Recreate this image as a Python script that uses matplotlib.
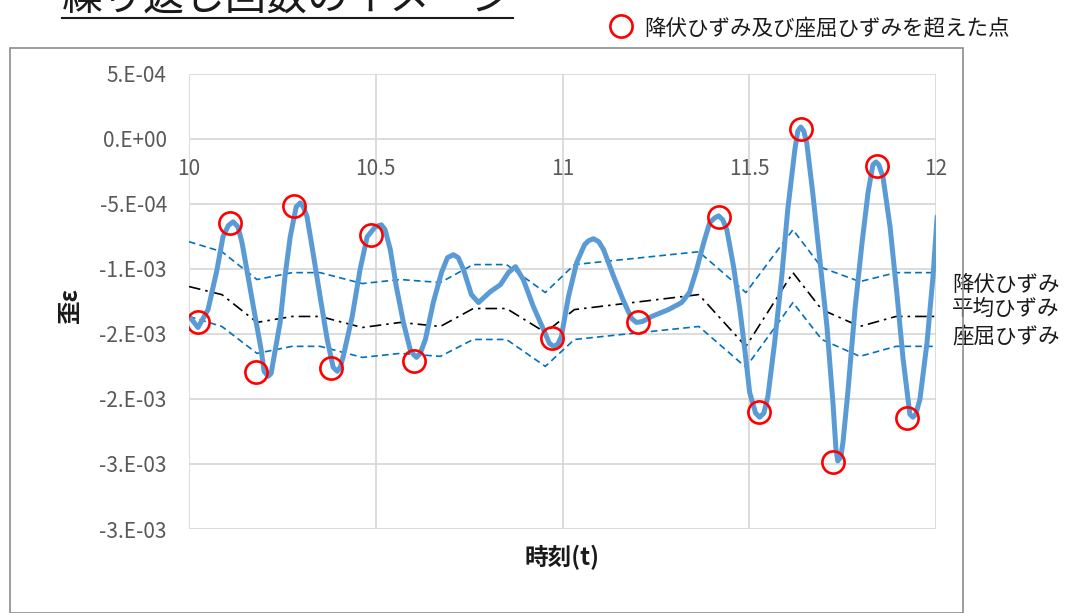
import matplotlib
matplotlib.use('Agg')
import matplotlib.pyplot as plt
from matplotlib.lines import Line2D
from matplotlib.patches import Rectangle

plt.rcParams['font.family'] = ['Noto Sans CJK JP', 'DejaVu Sans']

# 歪みの時刻歴（読み取り値, ×1e-3）
t = [10.003, 10.024, 10.051, 10.075, 10.091, 10.105, 10.118, 10.131, 10.142, 10.158,
     10.177, 10.193, 10.201, 10.212, 10.220, 10.225, 10.244, 10.257, 10.271, 10.287,
     10.298, 10.306, 10.316, 10.332, 10.351, 10.370, 10.386, 10.397, 10.405, 10.413,
     10.437, 10.458, 10.477, 10.499, 10.515, 10.525, 10.539, 10.555, 10.574, 10.592,
     10.601, 10.609, 10.619, 10.633, 10.654, 10.676, 10.692, 10.708, 10.721, 10.735,
     10.756, 10.775, 10.807, 10.834, 10.855, 10.874, 10.895, 10.922, 10.949, 10.965,
     10.976, 10.987, 10.997, 11.016, 11.038, 11.059, 11.070, 11.083, 11.097, 11.110,
     11.137, 11.164, 11.185, 11.198, 11.214, 11.239, 11.284, 11.319, 11.340, 11.359,
     11.378, 11.394, 11.408, 11.418, 11.429, 11.440, 11.458, 11.475, 11.488, 11.501,
     11.517, 11.528, 11.539, 11.550, 11.568, 11.587, 11.603, 11.622, 11.630, 11.638,
     11.646, 11.654, 11.670, 11.689, 11.708, 11.724, 11.732, 11.737, 11.745, 11.751,
     11.764, 11.783, 11.802, 11.818, 11.831, 11.839, 11.847, 11.858, 11.877, 11.895,
     11.912, 11.930, 11.938, 11.946, 11.957, 11.976, 11.992, 12.003]
strain = [-1.373, -1.450, -1.312, -1.005, -0.752, -0.667, -0.637, -0.675, -0.798, -1.058,
          -1.365, -1.618, -1.787, -1.825, -1.802, -1.718, -1.411, -1.058, -0.752, -0.522,
          -0.491, -0.522, -0.598, -0.874, -1.212, -1.542, -1.756, -1.787, -1.756, -1.672,
          -1.365, -1.005, -0.752, -0.675, -0.660, -0.698, -0.851, -1.135, -1.411, -1.618,
          -1.657, -1.680, -1.649, -1.542, -1.258, -1.028, -0.913, -0.890, -0.913, -1.005,
          -1.197, -1.258, -1.174, -1.120, -1.028, -0.982, -1.081, -1.289, -1.465, -1.572,
          -1.595, -1.580, -1.519, -1.212, -0.951, -0.813, -0.782, -0.767, -0.790, -0.851,
          -1.058, -1.250, -1.381, -1.411, -1.404, -1.365, -1.312, -1.258, -1.181, -1.005,
          -0.798, -0.644, -0.606, -0.591, -0.621, -0.698, -0.982, -1.312, -1.618, -1.948,
          -2.109, -2.140, -2.109, -1.979, -1.565, -1.058, -0.545, -0.084, 0.061, 0.092,
          0.061, -0.031, -0.414, -0.928, -1.442, -2.025, -2.380, -2.477, -2.447, -2.332,
          -1.948, -1.312, -0.798, -0.414, -0.199, -0.176, -0.199, -0.291, -0.675, -1.181,
          -1.695, -2.117, -2.140, -2.117, -2.002, -1.565, -1.058, -0.598]
strain = [s * 1e-3 for s in strain]

# 降伏・平均・座屈ひずみ
t_lim = [10.0, 10.088, 10.182, 10.276, 10.351, 10.464, 10.566, 10.673, 10.761, 10.850,
         10.954, 11.032, 11.365, 11.491, 11.617, 11.694, 11.796, 11.893, 12.0]
yield_strain = [-0.790, -0.867, -1.081, -1.028, -1.028, -1.112, -1.081, -1.104, -0.966, -0.966,
                -1.181, -0.966, -0.867, -1.181, -0.698, -0.989, -1.097, -1.028, -1.028]
mean_strain = [-1.135, -1.197, -1.411, -1.365, -1.365, -1.450, -1.411, -1.442, -1.304, -1.304,
               -1.488, -1.312, -1.197, -1.596, -1.028, -1.312, -1.442, -1.365, -1.365]
buckle_strain = [-1.365, -1.442, -1.649, -1.595, -1.595, -1.680, -1.649, -1.672, -1.542, -1.542,
                 -1.749, -1.542, -1.442, -1.756, -1.258, -1.542, -1.672, -1.595, -1.595]
yield_strain = [s * 1e-3 for s in yield_strain]
mean_strain = [s * 1e-3 for s in mean_strain]
buckle_strain = [s * 1e-3 for s in buckle_strain]

# 超過点
t_over = [10.024, 10.110, 10.180, 10.282, 10.381, 10.488, 10.603, 10.973, 11.201, 11.418,
          11.525, 11.638, 11.724, 11.842, 11.922]
strain_over = [-1.411, -0.644, -1.795, -0.514, -1.764, -0.736, -1.710, -1.534, -1.404, -0.598,
               -2.102, 0.077, -2.485, -0.207, -2.148]
strain_over = [s * 1e-3 for s in strain_over]

yticks = [-3.0e-3, -2.5e-3, -2.0e-3, -1.5e-3, -1.0e-3, -5.0e-4, 0.0, 5.0e-4]
ytick_labels = ['-3.E-03', '-3.E-03', '-2.E-03', '-2.E-03', '-1.E-03', '-5.E-04', '0.E+00', '5.E-04']
xticks = [10, 10.5, 11, 11.5, 12]
xtick_labels = ['10', '10.5', '11', '11.5', '12']

W, H = 1079, 613
fig = plt.figure(figsize=(W / 100, H / 100), dpi=100)
ax = fig.add_axes([189 / W, 1 - 529 / H, (936 - 189) / W, (529 - 74) / H])

ax.plot(t_lim, yield_strain, color='#0070C0', lw=1.2, dashes=(4, 2.5), zorder=3)
ax.plot(t_lim, mean_strain, color='black', lw=1.2, dashes=(7, 3, 1.5, 3), zorder=3)
ax.plot(t_lim, buckle_strain, color='#0070C0', lw=1.2, dashes=(4, 2.5), zorder=3)
ax.plot(t, strain, color='#5B9BD5', lw=3.6, solid_joinstyle='round', solid_capstyle='round', zorder=4)
ax.plot(t_over, strain_over, 'o', ms=16, mfc='none', mec='#FF0000', mew=1.9, zorder=5,
        label='降伏ひずみ及び座屈ひずみを超えた点')

ax.set_xlim(10, 12)
ax.set_ylim(-3.0e-3, 5.0e-4)
ax.set_xticks(xticks)
ax.set_xticklabels(xtick_labels)
ax.set_yticks(yticks)
ax.set_yticklabels(ytick_labels)
ax.grid(True, color='#D9D9D9', lw=1.3)
ax.set_axisbelow(True)
for s in ax.spines.values():
    s.set_visible(False)
ax.spines['bottom'].set_position(('data', 0))
ax.tick_params(axis='both', length=0, labelsize=15, labelcolor='#595959')
ax.tick_params(axis='x', pad=14)
ax.tick_params(axis='y', pad=16)

# 系列ラベル
lab_kw = dict(textcoords='offset pixels', fontsize=15.5, color='#1a1a1a', va='center', ha='left',
              annotation_clip=False)
ax.annotate('降伏ひずみ', (t_lim[-1], yield_strain[-1]), xytext=(16, -12), **lab_kw)
ax.annotate('平均ひずみ', (t_lim[-1], mean_strain[-1]), xytext=(16, 7), **lab_kw)
ax.annotate('座屈ひずみ', (t_lim[-1], buckle_strain[-1]), xytext=(16, 10), **lab_kw)

ax.legend(loc='center left', bbox_to_anchor=(610 / W, 1 - 28 / H), bbox_transform=fig.transFigure,
          frameon=False, fontsize=15.5, handlelength=1.0, handletextpad=0.6,
          borderpad=0, borderaxespad=0, labelcolor='#1a1a1a')

fig.text(70 / W, 1 - 305 / H, '歪ε', rotation=90, fontsize=17, fontweight='bold',
         ha='center', va='center', color='#1a1a1a')
fig.text(562 / W, 1 - 557 / H, '時刻(t)', fontsize=17, fontweight='bold',
         ha='center', va='center', color='#1a1a1a')

# 外枠
fig.patches.append(Rectangle((10 / W, 0.5 / H), (963 - 10) / W, (612 - 47) / H,
                             transform=fig.transFigure, fill=False, edgecolor='#8C8C8C', lw=1.2))

# タイトル（下線付き）
title = fig.text(62 / W, 1 - 11 / H, '繰り返し回数のイメージ', fontsize=29.5,
                 ha='left', va='baseline', color='#1a1a1a')
fig.canvas.draw()
bb = title.get_window_extent()
fig.add_artist(Line2D([bb.x0 / W, bb.x1 / W], [1 - 18 / H, 1 - 18 / H],
                      transform=fig.transFigure, color='#1a1a1a', lw=1.5))

fig.savefig('out.png', dpi=100)
